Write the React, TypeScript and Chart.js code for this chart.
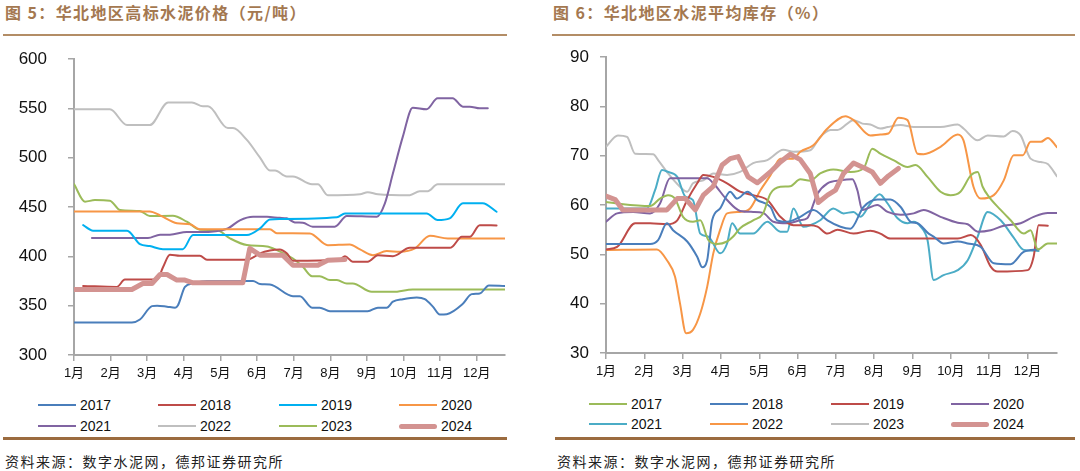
import React, { useEffect, useRef } from "react";
import { Chart, registerables } from "chart.js";

Chart.register(...registerables);

// ---------- shared labels ----------
const years = ["2017", "2018", "2019", "2020", "2021", "2022", "2023", "2024"];
const monthLabels = ["1月", "2月", "3月", "4月", "5月", "6月", "7月", "8月", "9月", "10月", "11月", "12月"];
const monthMax = 11.77;

// ---------- 图5: 华北地区高标水泥价格 (x = month index, y = 元/吨) ----------
const priceTicks = { min: 300, max: 600, step: 50 };
const price2017: [number, number][] = [[0,333],[1.58,333],[1.80,336],[2.13,349.5],[2.27,350],[2.54,349],[2.76,348],[2.84,350.5],[3.03,369],[3.25,372.5],[3.63,375],[4.89,375],[5.08,372],[5.35,371.5],[5.98,359.6],[6.17,359.6],[6.50,348],[6.71,348],[6.99,344.4],[8.02,344.4],[8.30,348],[8.54,348],[8.71,354],[8.98,356.6],[9.36,358.3],[9.58,356.6],[9.80,349],[9.99,341],[10.18,341.4],[10.62,352],[10.86,361.7],[11.08,362.3],[11.33,370.5],[11.76,370]];
const price2018: [number, number][] = [[0.25,370],[1.17,369],[1.39,376.5],[2.27,376.5],[2.43,389],[2.62,401.5],[2.89,400.5],[3.44,400.5],[3.63,396.5],[4.72,396.5],[4.99,401],[5.08,403],[5.35,406],[5.62,407],[5.81,403],[5.98,395.5],[7.26,396.8],[7.40,400.2],[7.61,394.5],[8.02,394.5],[8.30,401],[8.71,400.2],[9.17,408.6],[10.26,408.6],[10.34,410],[10.59,419.8],[10.81,419.8],[11.08,431.6],[11.54,431.3]];
const price2019: [number, number][] = [[0.25,431.6],[0.52,426],[1.45,426],[1.80,412.4],[2.07,410.4],[2.43,407.3],[2.97,407.3],[3.25,421.5],[4.72,421.5],[5.08,428.3],[5.35,437.4],[5.62,437.8],[7.18,439.5],[7.40,443.5],[9.63,443.5],[9.93,436.8],[10.26,438.5],[10.62,453.7],[11.16,453.7],[11.54,445.2]];
const price2020: [number, number][] = [[0,445.5],[2.07,445.5],[2.35,441.5],[2.81,433.5],[3.17,432.5],[3.44,427.5],[5.35,427.5],[5.54,423.5],[6.44,423.2],[6.93,411.3],[7.53,412],[7.81,407],[8.16,401.2],[8.54,405.3],[8.90,404.6],[9.31,408],[9.72,420.8],[10.21,418.1],[11.76,418.1]];
const price2021: [number, number][] = [[0.49,418.6],[2.02,418.6],[2.35,422],[2.62,422],[3.08,424.6],[3.44,424.6],[4.18,428],[4.53,436.5],[4.89,440],[5.27,440],[5.62,439],[5.81,438.5],[6.03,434.4],[6.25,434],[6.52,430],[7.12,430],[7.45,440.8],[8.27,440.2],[8.49,453.7],[8.71,484.1],[8.98,521.3],[9.25,550.7],[9.63,549],[9.93,560.2],[10.34,560.2],[10.62,551.7],[10.81,551.7],[11.08,550],[11.30,550]];
const price2022: [number, number][] = [[0,549],[0.98,549],[1.45,533],[2.07,533],[2.57,556],[3.22,556],[3.52,552],[3.66,552],[4.20,530],[4.34,530],[4.72,518],[5.08,500],[5.35,487],[5.49,487],[5.81,481],[5.98,481],[6.50,473],[6.66,473],[6.93,462],[7.81,463],[8.02,465],[8.30,463],[9.17,462],[9.44,466],[9.66,466],[9.93,473],[11.76,473]];
const price2023: [number, number][] = [[0,473.3],[0.30,455.4],[0.57,457],[0.98,456.4],[1.26,446.9],[1.80,445.9],[2.07,440.8],[2.70,441.2],[3.08,435.1],[3.44,427],[3.90,426.6],[4.26,418.2],[4.72,411.4],[5.27,410],[5.54,406.3],[5.98,397.8],[6.25,389.4],[6.50,379.9],[6.71,379.9],[6.99,375.9],[7.18,375.9],[7.45,372.5],[7.61,372.5],[8.13,364],[8.71,364],[9.25,366.4],[11.76,366.4]];
const price2024: [number, number][] = [[0,366.4],[1.58,366.4],[1.88,372.5],[2.13,372.5],[2.35,381.6],[2.54,381.6],[2.81,375.9],[3.03,375.9],[3.25,373.2],[4.61,373.2],[4.80,408],[5.08,401.2],[5.70,401.2],[5.98,391],[6.66,391],[6.93,396.1],[7.40,396.8]];
const priceColors = ["#4a7ebb", "#be4b48", "#00b0f0", "#f79646", "#8064a2", "#bfbfbf", "#9bbb59", "#d39391"];

// ---------- 图6: 华北地区水泥平均库存 (x = month index, y = %) ----------
const invTicks = { min: 30, max: 90, step: 10 };
const inv2017: [number, number][] = [[0,60.6],[0.29,60.3],[1.15,59.8],[1.41,61.3],[1.62,62],[1.80,61.3],[2.01,57.6],[2.27,56.6],[2.46,56.9],[2.67,52.9],[2.90,52.1],[3.16,52.6],[3.32,53.6],[3.50,55.3],[3.84,56.9],[4.10,58.3],[4.29,62.3],[4.55,63.7],[4.81,63.8],[5.07,65.2],[5.33,64.9],[5.59,66.4],[5.93,67.2],[6.38,66.7],[6.72,67.4],[6.95,71.4],[7.16,70.4],[7.50,69.1],[7.87,67.7],[8.08,68.1],[8.39,65.7],[8.73,62.7],[8.99,62],[9.25,62.7],[9.52,66],[9.70,66.7],[9.83,63.7],[9.99,61.7],[10.30,59],[10.56,56.9],[10.90,54.2],[11.08,54.9],[11.27,51],[11.53,52.2],[11.77,52.2]];
const inv2018: [number, number][] = [[0,52.1],[1.15,52.1],[1.36,52.9],[1.59,56.3],[1.75,54.9],[2.12,52.6],[2.38,49.5],[2.51,47.4],[2.64,48.8],[2.77,56.9],[2.98,59.3],[3.24,62.7],[3.42,61.3],[3.69,62.7],[3.95,61],[4.29,59.6],[4.47,56.9],[4.73,56.6],[5.07,57.6],[5.41,59],[5.78,56.9],[6.12,55.6],[6.38,55.2],[6.72,59.6],[7.08,61.1],[7.42,61.1],[7.69,59.6],[7.95,56.6],[8.13,56.3],[8.42,54.2],[8.55,53.6],[8.81,52.2],[9.18,52.6],[9.44,52.2],[9.78,51.5],[10.12,48.2],[10.56,48],[10.90,50.5],[11.29,51]];
const inv2019: [number, number][] = [[0,51],[0.29,51.5],[0.76,56.3],[1.15,56.3],[1.59,56.1],[1.86,56.9],[2.12,61],[2.38,64.4],[2.54,66.1],[2.80,65.7],[3.16,64.4],[3.50,62.7],[3.84,62],[4.21,61],[4.55,57.6],[4.89,55.9],[5.33,55.9],[5.52,55.6],[5.78,54.2],[6.04,55],[6.46,54.2],[6.90,54.8],[7.16,54.2],[7.42,53.2],[8.03,53.2],[9.18,53.2],[9.52,53.9],[9.78,51.9],[10.04,47.5],[10.22,46.5],[11.01,46.8],[11.16,49.5],[11.29,55.9],[11.53,55.8]];
const inv2020: [number, number][] = [[0,56.6],[0.29,58.3],[0.71,58.6],[1.15,58.3],[1.41,60.3],[1.67,65.4],[2.64,65.4],[2.80,64.4],[3.16,61],[3.50,58.8],[3.84,58.6],[4.10,58.4],[4.37,56.6],[4.73,56.3],[5.07,56.9],[5.25,57.3],[5.52,62.3],[5.78,64.4],[6.12,65],[6.43,65.2],[6.56,63],[6.69,59],[7.08,60],[7.35,58.6],[7.69,58],[8.03,58.3],[8.29,59],[8.73,57.6],[9.18,56.4],[9.44,56.1],[9.70,54.6],[10.04,54.9],[10.38,55.8],[10.82,56.3],[11.16,57.6],[11.53,58.4],[11.77,58.4]];
const inv2021: [number, number][] = [[0,59.3],[1.07,59.3],[1.28,63],[1.46,67.1],[1.62,66.7],[1.86,65.7],[2.07,61.7],[2.27,61],[2.46,54.2],[2.67,53.6],[2.98,50.2],[3.16,52.2],[3.29,56.3],[3.50,54.2],[3.84,54.2],[4.21,56.6],[4.55,54.6],[4.73,54.6],[4.89,59.3],[5.15,55.6],[5.33,55.9],[5.59,56.9],[5.93,59.3],[6.20,58.3],[6.46,58.6],[6.64,57.6],[6.90,60.3],[7.14,62.2],[7.35,60.3],[7.61,57.3],[7.87,56.3],[8.03,56.6],[8.21,55.6],[8.39,52.9],[8.55,44.8],[8.81,45.8],[9.18,46.8],[9.44,48.8],[9.70,53.6],[9.96,58.6],[10.30,56.9],[10.64,53.4],[10.90,50.9],[11.29,50.7]];
const inv2022: [number, number][] = [[0,50.9],[1.33,51],[1.59,48.8],[1.80,45.5],[1.93,40.1],[2.09,34],[2.27,34.7],[2.46,38],[2.64,43.4],[2.80,50.2],[2.98,55],[3.16,58.3],[3.50,58.6],[3.76,59.3],[4.03,63],[4.29,66],[4.55,69.4],[4.89,69.4],[5.07,70.8],[5.41,72.1],[5.78,75.5],[6.25,78],[6.46,77.2],[6.90,74.1],[7.16,74.3],[7.37,74.5],[7.63,77.7],[7.87,77.2],[8.13,70.4],[8.29,70.3],[8.73,71.8],[9.18,74.3],[9.33,73.1],[9.59,63.7],[9.78,61.3],[10.12,62],[10.38,65],[10.64,70.1],[10.88,70.1],[11.08,72.8],[11.35,72.8],[11.53,73.6],[11.77,71.7]];
const inv2023: [number, number][] = [[0,71.8],[0.31,74.1],[0.55,73.8],[0.76,70.4],[1.23,70.3],[1.36,69.1],[1.62,66.4],[1.93,63.7],[2.12,62.7],[2.27,64.4],[2.54,65],[2.80,66.4],[3.16,66.1],[3.50,66.7],[3.84,68.5],[4.21,69.1],[4.63,71.2],[4.89,70.8],[5.33,71.1],[5.59,73.8],[5.86,75.2],[6.04,75.2],[6.46,77.2],[6.69,76.5],[6.90,76.3],[7.16,75.5],[7.35,75.8],[7.69,76.2],[8.03,75.8],[8.73,75.8],[9.18,76.3],[9.33,75.5],[9.70,73.1],[9.96,74.1],[10.38,73.9],[10.61,75],[10.82,74.1],[11.08,69.4],[11.35,68.7],[11.53,68.3],[11.77,65.8]];
const inv2024: [number, number][] = [[0,61.8],[0.24,61.1],[0.44,59],[1.59,59],[1.86,61.3],[2.07,61.3],[2.33,59],[2.54,62],[2.80,63.8],[3.03,68.1],[3.24,69.4],[3.45,69.8],[3.71,65.7],[3.95,64.5],[4.29,66.7],[4.55,68.7],[4.81,70.3],[5.07,69.2],[5.33,66.4],[5.54,60.5],[5.78,62],[5.99,63],[6.20,66.4],[6.46,68.5],[6.77,67.4],[6.95,66.7],[7.16,64.4],[7.37,65.9],[7.63,67.4]];
const invColors = ["#9bbb59", "#4a7ebb", "#be4b48", "#8064a2", "#4bacc6", "#f79646", "#bfbfbf", "#d39391"];

const AXIS = "#a6a6a6";
const FONT = "'Liberation Sans', Arial, 'Noto Sans CJK SC', sans-serif";
const BROWN = "#a47850";

type Layout = { yWidth: number; xHeight: number; yPad: number; padTop: number; padRight: number };

function buildConfig(series: [number, number][][], colors: string[], t: { min: number; max: number; step: number }, L: Layout): any {
  return {
    type: "line",
    data: {
      datasets: series.map((pts, i) => ({
        label: years[i],
        data: pts.map(([x, y]) => ({ x, y })),
        borderColor: colors[i],
        backgroundColor: colors[i],
        borderWidth: i === 7 ? 5 : 2,
        pointRadius: 0,
        fill: false,
        tension: i === 7 ? 0 : 0.4,
        cubicInterpolationMode: i === 7 ? "default" : "monotone",
        borderJoinStyle: "round",
        borderCapStyle: "round",
        order: i === 7 ? 0 : 1,
      })),
    },
    options: {
      animation: false,
      responsive: false,
      maintainAspectRatio: false,
      layout: { padding: { left: 0, right: L.padRight, top: L.padTop, bottom: 0 } },
      plugins: { legend: { display: false }, tooltip: { enabled: false } },
      scales: {
        x: {
          type: "linear",
          min: 0,
          max: monthMax,
          afterFit: (s: any) => { s.height = L.xHeight; },
          ticks: {
            stepSize: 1,
            includeBounds: false,
            autoSkip: false,
            maxRotation: 0,
            padding: 5,
            color: "#111",
            font: { size: 13, family: FONT },
            callback: (v: any) => monthLabels[Math.round(Number(v))] ?? "",
          },
          grid: { display: true, drawOnChartArea: false, drawTicks: true, tickLength: 6, color: AXIS, lineWidth: 1.5 },
          border: { display: true, color: AXIS, width: 2 },
        },
        y: {
          type: "linear",
          min: t.min,
          max: t.max,
          afterFit: (s: any) => { s.width = L.yWidth; s.paddingTop = 0; s.paddingBottom = 0; },
          ticks: { stepSize: t.step, padding: L.yPad, color: "#111", font: { size: 17, family: FONT } },
          grid: { display: true, drawOnChartArea: false, drawTicks: true, tickLength: 6, color: AXIS, lineWidth: 1.5 },
          border: { display: true, color: AXIS, width: 2 },
        },
      },
    },
  };
}

function LineChart(props: { series: [number, number][][]; colors: string[]; ticks: { min: number; max: number; step: number }; layout: Layout; left: number; top: number; width: number; height: number }) {
  const ref = useRef<HTMLCanvasElement | null>(null);
  useEffect(() => {
    if (!ref.current) return;
    const chart = new Chart(ref.current, buildConfig(props.series, props.colors, props.ticks, props.layout));
    return () => chart.destroy();
  }, []);
  return (
    <canvas
      ref={ref}
      width={props.width}
      height={props.height}
      style={{ position: "absolute", left: props.left, top: props.top, width: props.width, height: props.height }}
    />
  );
}

function Legend(props: { colors: string[]; cols: number[]; rows: number[] }) {
  return (
    <>
      {years.map((yr, i) => {
        const x = props.cols[i % 4];
        const y = props.rows[Math.floor(i / 4)];
        const thick = i === 7;
        return (
          <React.Fragment key={yr}>
            <div style={{ position: "absolute", left: x, top: y - (thick ? 2.5 : 1), width: 38, height: thick ? 5 : 2, background: props.colors[i], borderRadius: thick ? 3 : 0 }} />
            <div style={{ position: "absolute", left: x + 42, top: y - 9, height: 18, lineHeight: "18px", fontSize: 14, fontFamily: FONT, color: "#111" }}>{yr}</div>
          </React.Fragment>
        );
      })}
    </>
  );
}

function Panel(props: { left: number; width: number; title: string; lineLeft: number; bottomLeft: number; sourceLeft: number }) {
  return (
    <>
      <div style={{ position: "absolute", left: props.left, top: 3, fontSize: 16, lineHeight: "18px", fontWeight: "bold", letterSpacing: 1.4, color: BROWN, fontFamily: "'Noto Sans CJK SC', sans-serif", whiteSpace: "nowrap" }}>{props.title}</div>
      <div style={{ position: "absolute", left: props.lineLeft, top: 34, width: props.width, height: 2, background: "#b38d66" }} />
      <div style={{ position: "absolute", left: props.bottomLeft, top: 437, width: props.width - (props.bottomLeft - props.lineLeft), height: 3, background: "#9b6b3f" }} />
      <div style={{ position: "absolute", left: props.sourceLeft, top: 452, fontSize: 14, lineHeight: "18px", letterSpacing: 1.5, color: "#222", fontFamily: "'Noto Sans CJK SC', serif", whiteSpace: "nowrap" }}>资料来源：数字水泥网，德邦证券研究所</div>
    </>
  );
}

export default function App() {
  return (
    <div style={{ position: "absolute", left: 0, top: 0, width: 1080, height: 471, background: "#fff", overflow: "hidden" }}>
      <Panel left={5} width={504} title="图 5：华北地区高标水泥价格（元/吨）" lineLeft={3} bottomLeft={3} sourceLeft={5} />
      <Panel left={553} width={523} title="图 6：华北地区水泥平均库存（%）" lineLeft={552} bottomLeft={555} sourceLeft={557} />
      <LineChart
        series={[price2017, price2018, price2019, price2020, price2021, price2022, price2023, price2024]}
        colors={priceColors}
        ticks={priceTicks}
        layout={{ yWidth: 74, xHeight: 35, yPad: 21, padTop: 14, padRight: 25 }}
        left={0}
        top={45}
        width={530}
        height={345}
      />
      <LineChart
        series={[inv2017, inv2018, inv2019, inv2020, inv2021, inv2022, inv2023, inv2024]}
        colors={invColors}
        ticks={invTicks}
        layout={{ yWidth: 66, xHeight: 37, yPad: 11, padTop: 12, padRight: 13 }}
        left={540}
        top={45}
        width={530}
        height={345}
      />
      <Legend colors={priceColors} cols={[38, 158, 279, 399]} rows={[405, 426]} />
      <Legend colors={invColors} cols={[589, 710, 831, 951]} rows={[404, 424]} />
    </div>
  );
}
